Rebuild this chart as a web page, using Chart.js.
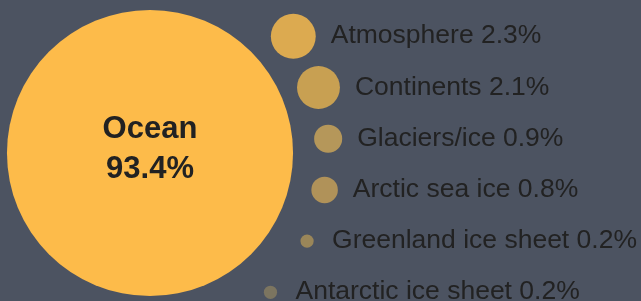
<!DOCTYPE html>
<html>
<head>
<meta charset="utf-8">
<script src="https://cdn.jsdelivr.net/npm/chart.js@4.4.1/dist/chart.umd.min.js"></script>
<style>
  html, body { margin: 0; padding: 0; background: #4c5361; }
  #wrap { width: 641px; height: 301px; position: relative; }
</style>
</head>
<body>
<div id="wrap"><canvas id="c"></canvas></div>
<script>
// ---- data ----
const mainCategory = "Ocean";
const mainValue = 93.4;
const categories = ["Atmosphere", "Continents", "Glaciers/ice", "Arctic sea ice", "Greenland ice sheet", "Antarctic ice sheet"];
const values = [2.3, 2.1, 0.9, 0.8, 0.2, 0.2];

// ---- styles ----
const bgColor = "#4c5361";
const mainColor = "#fdbb4a";
const bubbleColors = ["#dcaa50", "#c8a052", "#b5975a", "#b09259", "#9a8659", "#7c7560"];
const textColor = "#222222";

// ---- layout rules (in scale units) ----
const SIZE_K = 14.8;                     // radius = K * sqrt(percent)  (area ∝ value)
const center = { x: 150, y: 153 };       // position of the main bubble
const ring = { x: 126, y: 150.4, d: 202.5 }; // small bubbles sit on an arc
const rowStart = 36.3, rowStep = 51.2;   // one row per small category

function radiusOf(v) { return SIZE_K * Math.sqrt(v); }

const smallPoints = values.map((v, i) => {
  const y = rowStart + rowStep * i;
  const dy = y - ring.y;
  const x = ring.x + Math.sqrt(ring.d * ring.d - dy * dy);
  return { x, y, r: radiusOf(v) };
});

const labelPlugin = {
  id: "bubbleLabels",
  afterDatasetsDraw(chart) {
    const ctx = chart.ctx;
    ctx.save();
    // main bubble label
    const mainEl = chart.getDatasetMeta(0).data[0];
    ctx.fillStyle = textColor;
    ctx.textAlign = "center";
    ctx.textBaseline = "alphabetic";
    ctx.font = "bold 31px 'Liberation Sans', Arial, sans-serif";
    ctx.fillText(mainCategory, mainEl.x, mainEl.y - 15);
    ctx.fillText(mainValue.toFixed(1) + "%", mainEl.x, mainEl.y + 25);
    // small bubble labels
    ctx.textAlign = "left";
    ctx.font = "26.5px 'Liberation Sans', Arial, sans-serif";
    chart.getDatasetMeta(1).data.forEach((el, i) => {
      const r = el.options.radius;
      ctx.fillText(categories[i] + " " + values[i].toFixed(1) + "%", el.x + Math.max(r, 10) + 15, el.y + 7);
    });
    ctx.restore();
  }
};

new Chart(document.getElementById("c"), {
  type: "bubble",
  data: {
    datasets: [
      {
        label: mainCategory,
        data: [{ x: center.x, y: center.y, r: radiusOf(mainValue) }],
        backgroundColor: mainColor,
        borderWidth: 0,
        hoverBorderWidth: 0,
        clip: false
      },
      {
        label: "Other",
        data: smallPoints,
        backgroundColor: bubbleColors,
        borderWidth: 0,
        hoverBorderWidth: 0,
        clip: false
      }
    ]
  },
  options: {
    responsive: true,
    maintainAspectRatio: false,
    animation: false,
    layout: { padding: 0, autoPadding: false },
    events: [],
    plugins: {
      legend: { display: false },
      tooltip: { enabled: false }
    },
    scales: {
      x: { type: "linear", min: 0, max: 641, display: false },
      y: { type: "linear", min: 0, max: 301, reverse: true, display: false }
    }
  },
  plugins: [labelPlugin]
});
</script>
</body>
</html>
